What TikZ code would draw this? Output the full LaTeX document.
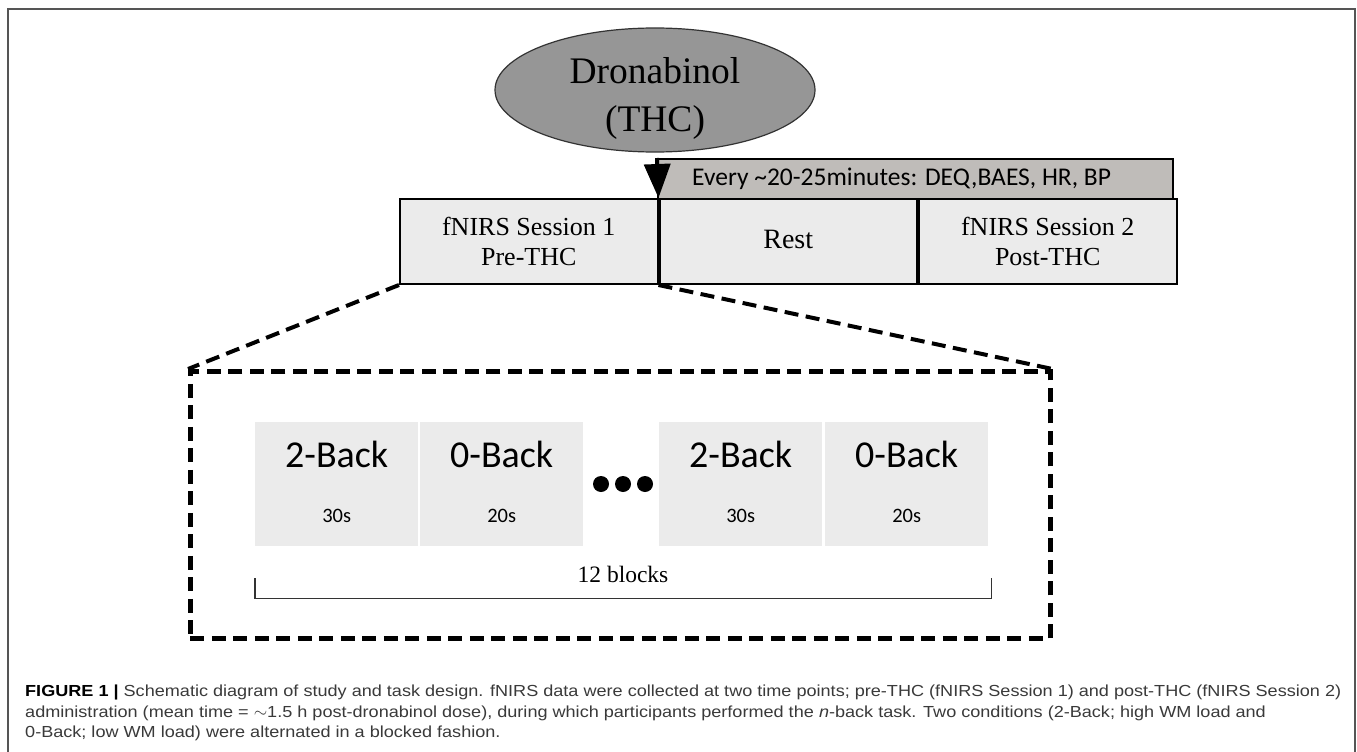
\documentclass[tikz,border=0pt]{standalone}
\usepackage{fontspec}
\setmainfont{Liberation Serif}
\newfontfamily\calib{Carlito}
\newfontfamily\capfont[FakeStretch=1.13]{Liberation Sans}
\usetikzlibrary{shapes.geometric,arrows.meta}
\definecolor{ellgray}{HTML}{969696}
\definecolor{bargray}{HTML}{BFBCB9}
\definecolor{boxgray}{HTML}{EBEBEB}
\definecolor{capgray}{HTML}{3A3A3A}
\definecolor{framegray}{HTML}{555555}
\begin{document}
\begin{tikzpicture}[x=1pt,y=-1pt,
  ell/.style={ellipse, draw=black!80, line width=1.2pt, fill=ellgray, minimum width=320pt, minimum height=124pt, inner sep=0pt},
  elltext/.style={align=center, inner sep=0pt, font=\fontsize{37.5}{48}\selectfont},
  bar/.style={draw=black, line width=2pt, fill=bargray, minimum width=515pt, minimum height=40pt, inner sep=0pt, anchor=north west},
  bartext/.style={inner sep=0pt, anchor=base west, font=\calib\fontsize{25.5}{30}\selectfont},
  tbox/.style={draw=black, line width=2pt, fill=boxgray, minimum width=257.5pt, minimum height=85pt, inner sep=0pt, align=center, anchor=north west, font=\fontsize{26}{30}\selectfont},
  tiparrow/.style={line width=4pt, -{Triangle[length=34pt,width=26pt]}},
  dashbox/.style={draw=black, line width=4.5pt, dash pattern=on 14pt off 7.5pt, minimum width=860pt, minimum height=267pt, inner sep=0pt, anchor=north west},
  zoomline/.style={draw=black, line width=4pt, dash pattern=on 14pt off 7.5pt},
  blk/.style={fill=boxgray, minimum width=163pt, minimum height=124pt, inner sep=0pt, anchor=north west},
  blkhead/.style={inner sep=0pt, anchor=base, font=\calib\fontsize{38}{40}\selectfont},
  blksub/.style={inner sep=0pt, anchor=base, font=\calib\fontsize{20.5}{24}\selectfont},
  dot/.style={circle, fill=black, minimum size=16pt, inner sep=0pt},
  brk/.style={draw=black!80, line width=1.2pt},
  brktext/.style={inner sep=0pt, anchor=base, font=\fontsize{23.5}{28}\selectfont},
  captxt/.style={inner sep=0pt, anchor=base west, text=capgray, font=\capfont\fontsize{16}{20}\selectfont},
  frame/.style={draw=framegray, line width=1.5pt}
]
\useasboundingbox (0,0) rectangle (1357,752);
\fill[white] (0,0) rectangle (1357,752);
\draw[frame] (8,752) -- (8,9) -- (1355,9) -- (1355,752);

% ellipse
\node[ell] (ell) at (655,90) {};
\node[elltext] (elltxt) at (655,98) {Dronabinol\\(THC)};

% timeline
\node[bar] (bar) at (657,158) {};
\node[bartext] (bartxt) at (692,185) {Every \textasciitilde20-25minutes: DEQ,BAES, HR, BP};
\node[tbox] (box1) at (399,198) {fNIRS Session 1\\Pre-THC};
\node[tbox] (box2) at (box1.north east) {\fontsize{28}{30}\selectfont\raisebox{5pt}{Rest}};
\node[tbox] (box3) at (box2.north east) {fNIRS Session 2\\Post-THC};
\draw[tiparrow] (bar.north west) -- (box1.north east);

% zoom box
\node[dashbox] (zoom) at (188,369) {};
\draw[zoomline] (box1.south west) -- (zoom.north west);
\draw[zoomline] (box1.south east) -- (zoom.north east);

% blocks
\node[blk] (b1) at (255,422) {};
\node[blk] (b2) at (420,422) {};
\node[blk] (b3) at (659,422) {};
\node[blk] (b4) at (825,422) {};
\node[blkhead] (h1) at ([yshift=-45pt]b1.north) {2-Back};
\node[blkhead] (h2) at ([yshift=-45pt]b2.north) {0-Back};
\node[blkhead] (h3) at ([yshift=-45pt]b3.north) {2-Back};
\node[blkhead] (h4) at ([yshift=-45pt]b4.north) {0-Back};
\node[blksub] (s1) at ([yshift=-100pt]b1.north) {30s};
\node[blksub] (s2) at ([yshift=-100pt]b2.north) {20s};
\node[blksub] (s3) at ([yshift=-100pt]b3.north) {30s};
\node[blksub] (s4) at ([yshift=-100pt]b4.north) {20s};
\node[dot] (d1) at (601,484) {};
\node[dot] (d2) at (623,484) {};
\node[dot] (d3) at (645,484) {};

% bracket
\coordinate (bl) at ([yshift=-32pt]b1.south west);
\coordinate (br) at ([xshift=3pt,yshift=-32pt]b4.south east);
\draw[brk] (bl) -- ++(0,20) -| (br);
\node[brktext] (nblk) at (623,582) {12 blocks};

% caption
\node[captxt] (cap1) at (25,696) {\textbf{\color{black}FIGURE 1 |} Schematic diagram of study and task design. fNIRS data were collected at two time points; pre-THC (fNIRS Session 1) and post-THC (fNIRS Session 2)};
\node[captxt] (cap2) at (25,717) {administration (mean time = $\sim$1.5 h post-dronabinol dose), during which participants performed the \textit{n}-back task. Two conditions (2-Back; high WM load and};
\node[captxt] (cap3) at (25,737) {0-Back; low WM load) were alternated in a blocked fashion.};
\end{tikzpicture}
\end{document}
